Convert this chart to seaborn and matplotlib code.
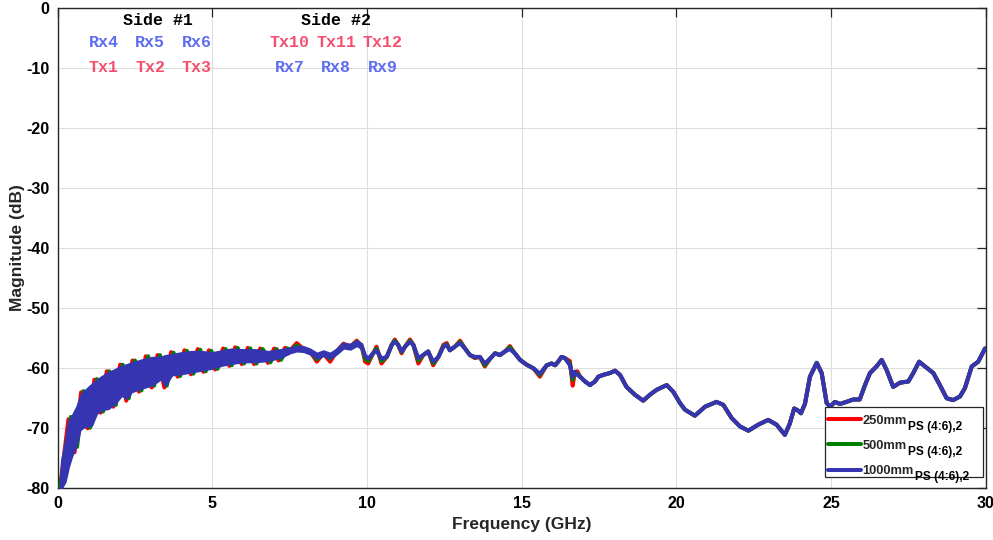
import matplotlib
matplotlib.use("Agg")
import matplotlib.pyplot as plt
from matplotlib.transforms import IdentityTransform
from matplotlib.font_manager import FontProperties
from matplotlib.patches import Rectangle
import numpy as np
import pandas as pd
import seaborn as sns

# ---------------------------------------------------------------------------
# Transmission magnitude vs frequency for three cable lengths
# ---------------------------------------------------------------------------

# Low-frequency region (0 - 9.8 GHz): the 1000 mm trace ripples so fast that
# it forms a solid band; upper / lower edges of that band (dB)
BAND_F = [0.08, 0.13, 0.24, 0.35, 0.45, 0.62, 0.72, 0.78, 0.89, 0.99, 1.10,
          1.21, 1.26, 1.42, 1.64, 1.86, 2.07, 2.23, 2.39, 2.72, 3.04, 3.36,
          3.47, 3.69, 4.01, 4.33, 4.66, 4.98, 5.30, 5.60, 6.00, 6.40, 6.80,
          7.20, 7.52, 7.73, 7.95, 8.16, 8.38, 8.59, 8.81, 9.02, 9.24, 9.46,
          9.67, 9.83]
BAND_1000_HI = [-80.0, -75.4, -72.6, -69.0, -68.2, -66.5, -65.0, -64.3, -63.8,
                -63.3, -62.8, -62.3, -62.1, -61.5, -60.8, -60.3, -59.7, -59.5,
                -59.2, -58.7, -58.3, -58.2, -58.0, -57.8, -57.5, -57.3, -57.3,
                -57.5, -57.2, -56.9, -57.0, -57.0, -57.3, -57.0, -56.7, -56.4,
                -56.5, -56.9, -57.6, -57.2, -57.6, -56.9, -55.9, -56.1, -55.5,
                -56.0]
BAND_1000_LO = [-80.0, -80.0, -79.0, -76.5, -74.8, -72.6, -70.4, -70.1, -69.8,
                -69.7, -69.6, -68.2, -67.6, -67.0, -66.8, -65.9, -64.6, -65.1,
                -64.0, -63.4, -62.9, -61.8, -63.0, -61.2, -61.0, -60.7, -60.4,
                -60.1, -59.6, -59.3, -59.0, -59.0, -58.8, -58.3, -57.5, -57.2,
                -57.3, -57.7, -58.4, -58.0, -58.4, -57.7, -56.7, -56.9, -56.3,
                -56.8]

# Ripple extremes of the 250 mm and 500 mm traces in the same region
RIPPLE_250_F = [0.08, 0.35, 0.55, 0.76, 0.97, 1.19, 1.39, 1.59, 1.80, 2.02,
                2.22, 2.42, 2.63, 2.85, 3.04, 3.23, 3.45, 3.67, 3.88, 4.10,
                4.31, 4.53, 4.71, 4.89, 5.09, 5.35, 5.55, 5.74, 5.95, 6.15,
                6.35, 6.55, 6.80, 7.00, 7.14, 7.35]
RIPPLE_250_DB = [-80.0, -68.6, -74.1, -64.1, -70.1, -62.0, -67.5, -60.6, -66.5,
                 -59.5, -65.5, -58.8, -64.0, -58.1, -63.3, -57.9, -63.3, -57.4,
                 -61.5, -57.1, -61.1, -56.9, -60.7, -57.1, -60.3, -56.8, -59.7,
                 -56.6, -59.4, -56.7, -59.4, -56.8, -59.2, -56.8, -58.8, -56.7]
RIPPLE_500_F = [0.08, 0.43, 0.63, 0.84, 1.05, 1.27, 1.47, 1.67, 1.88, 2.10,
                2.30, 2.50, 2.71, 2.93, 3.12, 3.31, 3.53, 3.75, 3.96, 4.18,
                4.39, 4.61, 4.79, 4.97, 5.17, 5.43, 5.63, 5.82, 6.03, 6.23,
                6.43, 6.63, 6.88, 7.08, 7.22, 7.43]
RIPPLE_500_DB = [-80.0, -68.2, -73.2, -63.9, -70.0, -61.9, -67.3, -60.6, -66.2,
                 -59.5, -65.1, -58.8, -63.8, -58.1, -63.0, -57.9, -63.0, -57.5,
                 -61.4, -57.2, -61.0, -57.0, -60.6, -57.2, -60.2, -56.9, -59.6,
                 -56.7, -59.3, -56.8, -59.3, -56.9, -59.1, -56.9, -58.7, -56.8]

# Mid-band region (7.5 - 17.4 GHz), where the traces separate slightly
MID_F = [7.52, 7.73, 7.95, 8.16, 8.38, 8.59, 8.81, 9.02, 9.24, 9.46, 9.67,
         9.83, 9.94, 10.04, 10.20, 10.31, 10.47, 10.64, 10.80, 10.90, 11.01,
         11.12, 11.23, 11.39, 11.50, 11.66, 11.82, 11.98, 12.14, 12.31, 12.47,
         12.58, 12.68, 12.84, 13.01, 13.17, 13.33, 13.49, 13.65, 13.81, 13.98,
         14.14, 14.30, 14.46, 14.62, 14.78, 14.95, 15.16, 15.38, 15.59, 15.81,
         15.97, 16.08, 16.18, 16.29, 16.40, 16.56, 16.65, 16.72, 16.80, 16.89,
         17.05, 17.21, 17.37]
MID_1000 = [-57.1, -56.8, -56.9, -57.3, -58.0, -57.6, -58.0, -57.3, -56.3, -56.5,
            -55.9, -56.4, -58.0, -58.5, -57.6, -57.1, -58.5, -58.2, -56.2, -55.7,
            -56.2, -57.3, -56.5, -55.7, -56.2, -58.4, -57.9, -57.3, -59.0, -58.2,
            -56.5, -56.2, -57.1, -56.5, -55.9, -56.8, -57.9, -58.2, -58.2, -59.3,
            -58.5, -57.6, -57.9, -57.3, -56.9, -57.6, -58.7, -59.5, -60.1, -61.0,
            -59.6, -59.3, -59.6, -59.0, -58.2, -58.4, -59.6, -61.5, -60.7, -61.2,
            -61.5, -62.3, -62.9, -62.3]
MID_250 = [-57.1, -55.9, -56.9, -57.3, -59.0, -57.6, -59.0, -57.3, -56.0, -56.5,
           -55.5, -56.4, -59.0, -59.3, -57.6, -56.5, -59.3, -58.2, -56.2, -55.3,
           -56.2, -57.6, -56.5, -55.3, -56.2, -59.3, -57.9, -57.3, -59.6, -58.2,
           -56.2, -55.9, -57.1, -56.5, -55.5, -56.8, -57.9, -58.4, -58.2, -59.8,
           -58.5, -57.6, -57.9, -57.3, -56.4, -57.6, -58.7, -59.5, -60.1, -61.5,
           -59.6, -59.3, -59.6, -59.0, -58.2, -58.4, -58.9, -63.0, -60.7, -60.6,
           -61.5, -62.3, -62.9, -62.3]
MID_500 = [-57.1, -56.3, -56.9, -57.3, -58.6, -57.6, -58.5, -57.3, -56.2, -56.5,
           -55.7, -56.4, -58.5, -58.9, -57.6, -56.8, -58.9, -58.2, -56.2, -55.5,
           -56.2, -57.4, -56.5, -55.5, -56.2, -58.8, -57.9, -57.3, -59.3, -58.2,
           -56.4, -56.1, -57.1, -56.5, -55.7, -56.8, -57.9, -58.3, -58.2, -59.6,
           -58.5, -57.6, -57.9, -57.3, -56.6, -57.6, -58.7, -59.5, -60.1, -61.2,
           -59.6, -59.3, -59.6, -59.0, -58.2, -58.4, -59.3, -62.0, -60.7, -61.0,
           -61.5, -62.3, -62.9, -62.3]

# High-frequency region (17.5 - 30 GHz): all three traces coincide
HIGH_F = [17.48, 17.64, 17.85, 18.02, 18.18, 18.39, 18.66, 18.93, 19.15, 19.36,
          19.69, 19.90, 20.12, 20.28, 20.60, 20.93, 21.30, 21.52, 21.79, 22.06,
          22.33, 22.65, 22.97, 23.24, 23.51, 23.67, 23.81, 23.92, 24.03, 24.16,
          24.32, 24.54, 24.70, 24.86, 24.97, 25.13, 25.29, 25.50, 25.72, 25.93,
          26.10, 26.26, 26.47, 26.64, 26.80, 27.01, 27.23, 27.50, 27.66, 27.85,
          28.04, 28.31, 28.52, 28.74, 28.95, 29.17, 29.33, 29.55, 29.76, 29.98]
HIGH_DB = [-61.5, -61.2, -60.9, -60.5, -61.2, -63.2, -64.5, -65.5, -64.5, -63.7,
           -62.9, -64.0, -65.9, -67.0, -68.0, -66.5, -65.7, -66.2, -68.4, -69.8,
           -70.5, -69.5, -68.7, -69.5, -71.2, -69.3, -66.8, -67.1, -67.6, -66.0,
           -61.5, -59.2, -60.9, -65.9, -66.5, -65.7, -66.05, -65.7, -65.3, -65.3,
           -62.9, -60.9, -59.8, -58.7, -60.4, -63.2, -62.5, -62.3, -60.9, -59.0,
           -59.8, -60.9, -62.9, -65.1, -65.4, -64.8, -63.4, -59.8, -59.0, -56.8]

# Legend text: cable length plus the port-set subscript
LEGEND_MAIN = ["250mm", "500mm", "1000mm"]
LEGEND_SUB = "PS (4:6),2"

# Port labels for both sides of the fixture: (text, freq, dB, kind)
SIDE_HEADERS = [("Side #1", 3.23, -2.05), ("Side #2", 9.0, -2.05)]
PORTS = [("Rx4", 1.48, -5.8, "rx"), ("Rx5", 2.99, -5.8, "rx"), ("Rx6", 4.50, -5.8, "rx"),
         ("Tx1", 1.48, -10.0, "tx"), ("Tx2", 2.99, -10.0, "tx"), ("Tx3", 4.50, -10.0, "tx"),
         ("Tx10", 7.50, -5.8, "tx"), ("Tx11", 9.0, -5.8, "tx"), ("Tx12", 10.5, -5.8, "tx"),
         ("Rx7", 7.50, -10.0, "rx"), ("Rx8", 9.0, -10.0, "rx"), ("Rx9", 10.5, -10.0, "rx")]

RED, GREEN, BLUE = "#FF0000", "#008000", "#3535B2"
PORT_COLORS = {"rx": "#5D6CF0", "tx": "#F2506E"}
LEG_SIZE, SUB_SIZE = 9.3, 8.6
# legend box in axes fraction: left, bottom, right, top
LEG_BOX = (0.8269, 0.0223, 0.9971, 0.168)

sns.set_theme(style="white")
plt.rcParams["font.family"] = ["Liberation Sans", "DejaVu Sans"]
plt.rcParams["font.weight"] = "bold"
plt.rcParams["axes.unicode_minus"] = False

fig, ax = plt.subplots(figsize=(9.93, 5.40), dpi=100)
fig.subplots_adjust(left=0.058, right=0.9926, bottom=0.0969, top=0.9857)

df_250 = pd.DataFrame({"f": RIPPLE_250_F + MID_F + HIGH_F,
                       "db": RIPPLE_250_DB + MID_250 + HIGH_DB})
df_500 = pd.DataFrame({"f": RIPPLE_500_F + MID_F + HIGH_F,
                       "db": RIPPLE_500_DB + MID_500 + HIGH_DB})
df_1000 = pd.DataFrame({"f": MID_F + HIGH_F, "db": MID_1000 + HIGH_DB})

sns.lineplot(data=df_250, x="f", y="db", color=RED, lw=2.9, estimator=None,
             sort=False, ax=ax, label=LEGEND_MAIN[0], zorder=2)
sns.lineplot(data=df_500, x="f", y="db", color=GREEN, lw=2.9, estimator=None,
             sort=False, ax=ax, label=LEGEND_MAIN[1], zorder=3)
ax.fill_between(BAND_F, BAND_1000_LO, BAND_1000_HI, color=BLUE, lw=1.6,
                edgecolor=BLUE, zorder=4)
sns.lineplot(data=df_1000, x="f", y="db", color=BLUE, lw=2.9, estimator=None,
             sort=False, ax=ax, label=LEGEND_MAIN[2], zorder=4)

for text, f, db in SIDE_HEADERS:
    ax.text(f, db, text, family="Liberation Mono", weight="bold", size=12,
            color="black", ha="center", va="center", zorder=6)
for text, f, db, kind in PORTS:
    ax.text(f, db, text, family="Liberation Mono", weight="bold", size=12,
            color=PORT_COLORS[kind], ha="center", va="center", zorder=6)

ax.set_xlim(0, 30)
ax.set_ylim(-80, 0)
ax.set_xticks(np.arange(0, 31, 5))
ax.set_yticks(np.arange(-80, 1, 10))
ax.grid(True, color="#DEDEDE", lw=0.8)
ax.set_axisbelow(True)
ax.tick_params(direction="in", length=6.5, width=0.9, top=True, right=True,
               labelsize=11.5, colors="#262626", labelcolor="black", pad=6)
for lab in ax.get_xticklabels() + ax.get_yticklabels():
    lab.set_fontweight("bold")
for sp in ax.spines.values():
    sp.set_color("#262626")
    sp.set_linewidth(1.0)

ax.set_xlabel("Frequency (GHz)", fontsize=12.5, fontweight="bold", labelpad=4)
ax.set_ylabel("Magnitude (dB)", fontsize=12.5, fontweight="bold", labelpad=1)

# legend frame is drawn as its own box so it also encloses the subscripts
x0, y0, x1, y1 = LEG_BOX
ax.add_patch(Rectangle((x0, y0), x1 - x0, y1 - y0, transform=ax.transAxes,
                       facecolor="white", edgecolor="#262626", lw=0.9,
                       zorder=9, clip_on=False))
leg = ax.legend(loc="upper left", bbox_to_anchor=(x0 - 0.0045, y1), frameon=False,
                prop={"weight": "bold", "size": LEG_SIZE},
                handlelength=2.5, borderpad=0.58, labelspacing=1.03,
                handletextpad=0.15, borderaxespad=0)
leg.set_zorder(10)

# lowered, smaller subscript after each legend label
fig.canvas.draw()
renderer = fig.canvas.get_renderer()
leg_prop = FontProperties(family=["Liberation Sans"], weight="bold", size=LEG_SIZE)
_, _, lp_descent = renderer.get_text_width_height_descent("lp", leg_prop, ismath=False)
for t in leg.get_texts():
    bb = t.get_window_extent(renderer)
    baseline = bb.y0 + lp_descent
    fig.text(bb.x1 + 1.0, baseline - 6.0, LEGEND_SUB,
             transform=IdentityTransform(), fontsize=SUB_SIZE,
             fontweight="bold", color="black", ha="left", va="baseline",
             zorder=20)

fig.savefig("out.png", dpi=100)
